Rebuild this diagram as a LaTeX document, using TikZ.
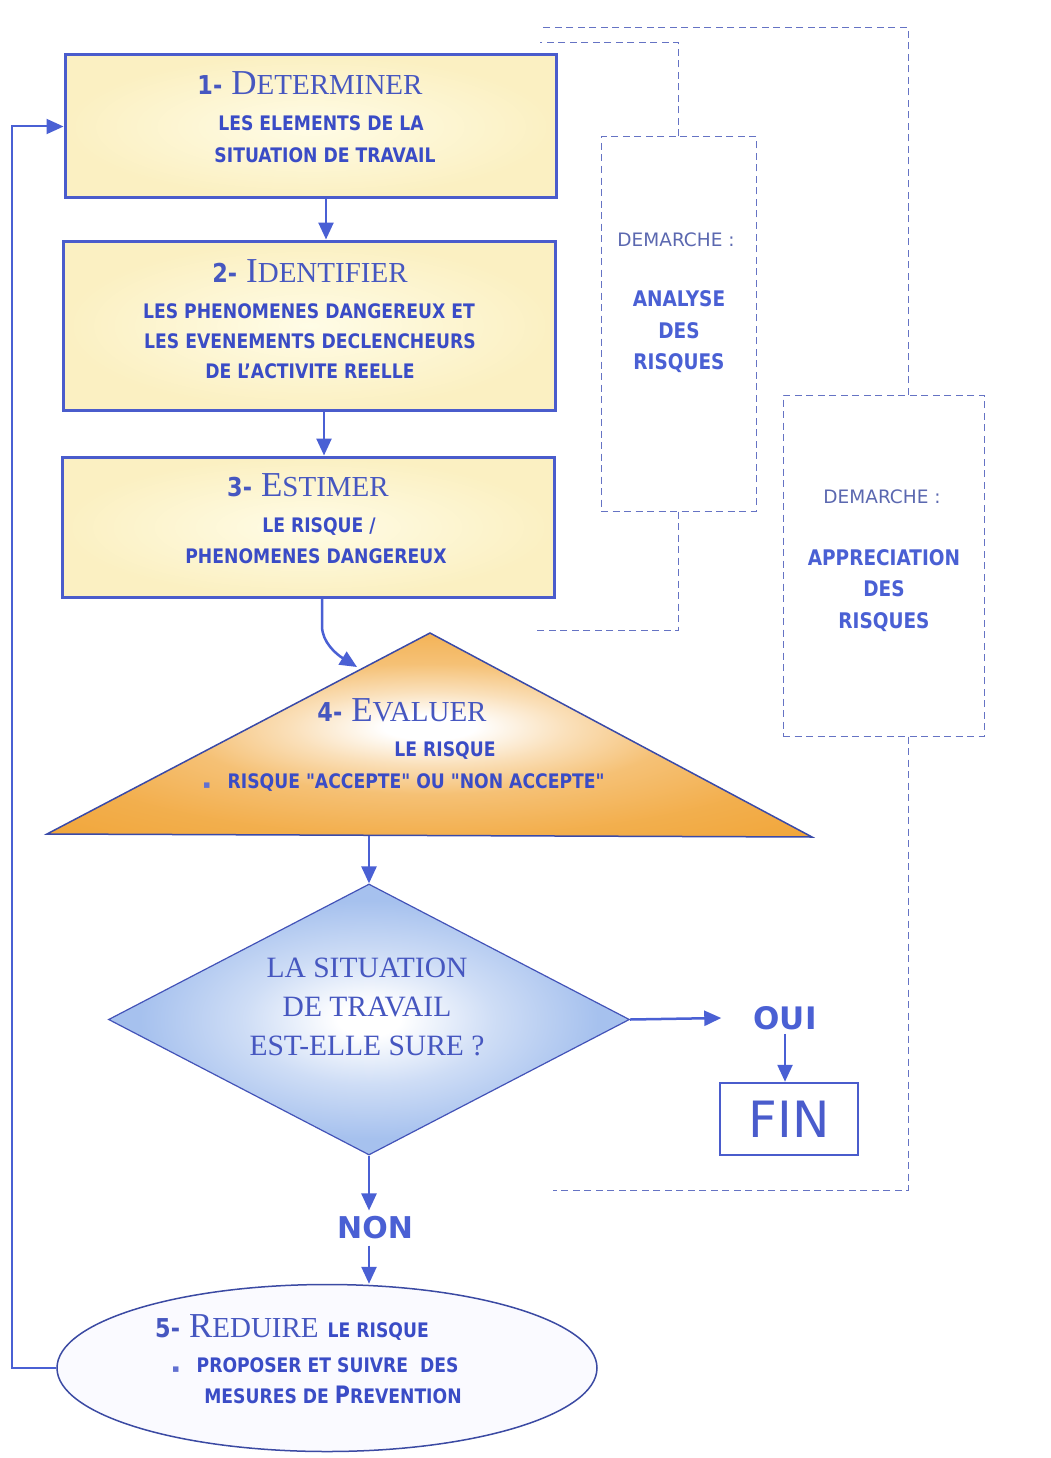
\documentclass[tikz,border=0pt]{standalone}
\usepackage{fontspec}
\setmainfont{Liberation Serif}
\newfontfamily\tah[FakeStretch=0.86]{DejaVu Sans}
\newfontfamily\verd{DejaVu Sans}
\usetikzlibrary{arrows.meta,shapes.geometric}
\definecolor{bord}{HTML}{4A5CCC}
\definecolor{txt}{HTML}{3A4CC6}
\definecolor{sertxt}{HTML}{4657C0}
\definecolor{boxin}{HTML}{FFFCE6}
\definecolor{boxout}{HTML}{FBF0C2}
\definecolor{orng}{HTML}{F1A63A}
\definecolor{lblue}{HTML}{A6C1EE}
\definecolor{dashc}{HTML}{6573C4}
\definecolor{arr}{HTML}{4A60D4}
\definecolor{tribord}{HTML}{3A4AA8}
\pgfdeclareradialshading{glow}{\pgfpoint{0bp}{2bp}}{color(0bp)=(white); color(3bp)=(white); color(9bp)=(orng!35); color(16bp)=(orng!70); color(26bp)=(orng!90); color(36bp)=(orng); color(70bp)=(orng)}
\pgfdeclareradialshading{bglow}{\pgfpoint{0bp}{0bp}}{color(0bp)=(white); color(3bp)=(white); color(12bp)=(lblue!55); color(22bp)=(lblue); color(70bp)=(lblue)}
\newcommand\SCap[2]{{\fontsize{35}{35}\selectfont #1}{\fontsize{29}{29}\selectfont #2}}
\newcommand\Num[1]{{\tah\bfseries\fontsize{26}{26}\selectfont #1}\hspace{9pt}}
\newcommand\Bul{{\verd\fontsize{11}{11}\selectfont\color{txt!80}▪}\hspace{17pt}}
\begin{document}
\begin{tikzpicture}[x=1pt,y=-1pt,
  stepbox/.style={draw=bord, line width=3pt, inner color=boxin, outer color=boxout, inner sep=0pt},
  sub/.style={font=\tah\bfseries\fontsize{20}{20}\selectfont, text=txt, anchor=base, inner sep=0pt},
  ttl/.style={text=sertxt, anchor=base, inner sep=0pt},
  dtxt/.style={font=\verd\fontsize{18.5}{18.5}\selectfont, text=dashc!90!black, anchor=base, inner sep=0pt},
  dsub/.style={font=\tah\bfseries\fontsize{21.5}{21.5}\selectfont, text=arr, anchor=base, inner sep=0pt},
  dia/.style={font=\fontsize{29.5}{29.5}\selectfont, text=sertxt, anchor=base, inner sep=0pt},
  flow/.style={draw=arr, line width=2.5pt, -{Triangle[length=17pt,width=15pt]}},
  dashline/.style={draw=dashc, line width=1pt, dash pattern=on 7pt off 4.5pt},
  dashbox/.style={draw=dashc, line width=1pt, dash pattern=on 7pt off 4.5pt, inner sep=0pt}]
\useasboundingbox[fill=white] (0,0) rectangle (1050,1458);

% dashed grouping boxes
\node[dashbox, minimum width=155pt, minimum height=374pt] (ana) at (678.5,324) {};
\node[dashbox, minimum width=201pt, minimum height=341pt] (app) at (883.5,565.5) {};
\coordinate (anaT) at (540,43);
\coordinate (anaB) at (537,630);
\coordinate (appT) at (540,28);
\coordinate (appB) at (553,1190);
\coordinate (appX) at (908,0);
\draw[dashline] (ana.north) |- (anaT);
\draw[dashline] (ana.south) |- (anaB);
\draw[dashline] (app.north -| appX) |- (appT);
\draw[dashline] (app.south -| appX) |- (appB);
\node[dtxt] (anaD) at (676,246) {DEMARCHE :};
\node[dsub] (anaA) at (679,306) {ANALYSE};
\node[dsub] (anaE) at (679,338) {DES};
\node[dsub] (anaR) at (679,369) {RISQUES};
\node[dtxt] (appD) at (882,503) {DEMARCHE :};
\node[dsub] (appA) at (884,565) {APPRECIATION};
\node[dsub] (appE) at (884,596) {DES};
\node[dsub] (appR) at (884,628) {RISQUES};

% step boxes
\node[stepbox, minimum width=491pt, minimum height=143pt] (b1) at (310.5,126.5) {};
\node[stepbox, minimum width=492pt, minimum height=169pt] (b2) at (309,325.5) {};
\node[stepbox, minimum width=492pt, minimum height=140pt] (b3) at (308,527) {};

\node[ttl] (t1) at (310,95) {\Num{1-}\SCap{D}{ETERMINER}};
\node[sub] (s11) at (321,131) {LES ELEMENTS DE LA};
\node[sub] (s12) at (325,163) {SITUATION DE TRAVAIL};

\node[ttl] (t2) at (310,282) {\Num{2-}\SCap{I}{DENTIFIER}};
\node[sub] (s21) at (309,318) {LES PHENOMENES DANGEREUX ET};
\node[sub] (s22) at (310,348) {LES EVENEMENTS DECLENCHEURS};
\node[sub] (s23) at (310,378) {DE L’ACTIVITE REELLE};

\node[ttl] (t3) at (308,496) {\Num{3-}\SCap{E}{STIMER}};
\node[sub] (s31) at (319,532) {LE RISQUE /};
\node[sub] (s32) at (316,563) {PHENOMENES DANGEREUX};

% triangle
\coordinate (ta) at (430,633);
\coordinate (tl) at (47,834);
\coordinate (tr) at (812,837);
\shade[shading=glow, draw=tribord, line width=1.5pt] (ta) -- (tr) -- (tl) -- cycle;
\node[ttl] (t4) at (402,721) {\Num{4-}\SCap{E}{VALUER}};
\node[sub] (s41) at (445,756) {LE RISQUE};
\node[sub, anchor=base west] (s42) at (203,788) {\Bul RISQUE "ACCEPTE" OU "NON ACCEPTE"};

% diamond
\node[diamond, shading=bglow, draw=bord!90!black, line width=1.2pt, minimum width=521pt, minimum height=271pt, inner sep=0pt] (dm) at (369,1019.5) {};
\node[dia] (d1) at (367,977) {LA SITUATION};
\node[dia] (d2) at (367,1016) {DE TRAVAIL};
\node[dia] (d3) at (367,1055) {EST-ELLE SURE ?};

% OUI / FIN / NON
\node[font=\verd\bfseries\fontsize{31}{31}\selectfont, text=arr, inner xsep=32pt, inner ysep=4pt] (oui) at (785,1018) {OUI};
\node[draw=bord, line width=2.5pt, minimum width=138pt, minimum height=72pt, inner sep=0pt, font=\verd\fontsize{50}{50}\selectfont, text=bord] (fin) at (789,1119) {FIN};
\node[font=\verd\bfseries\fontsize{30}{30}\selectfont, text=arr, inner xsep=2pt, inner ysep=6pt] (non) at (375,1228) {NON};

% ellipse
\node[ellipse, draw=bord!80!black, line width=1.5pt, fill=blue!2, minimum width=540pt, minimum height=167pt, inner sep=0pt] (ell) at (327,1368) {};
\node[ttl, anchor=base west] (t5) at (155,1337) {\Num{5-}\SCap{R}{EDUIRE}\hspace{9pt}{\tah\bfseries\fontsize{20}{20}\selectfont\color{txt}LE RISQUE}};
\node[sub, anchor=base west] (s51) at (172,1372) {\Bul PROPOSER ET SUIVRE~ DES};
\node[sub] (s52) at (333,1403) {MESURES DE {\fontsize{24}{24}\selectfont P}REVENTION};

% connectors
\coordinate (ax1) at (326,0);
\coordinate (ax2) at (324,0);
\coordinate (ax3) at (322,0);
\coordinate (tb) at (369,836);
\coordinate (ttip) at (357,667);
\coordinate (lp) at (12,0);
\coordinate (ox) at (785,0);
\draw[flow] (b1.south -| ax1) -- (b2.north -| ax1);
\draw[flow] (b2.south -| ax2) -- (b3.north -| ax2);
\draw[flow] (b3.south -| ax3) -- (322,626) .. controls (322,642) and (336,654) .. (ttip);
\draw[flow] (tb) -- (dm.north);
\draw[flow] (dm.east) -- (oui.west);
\draw[flow] (oui.south -| ox) -- (fin.north -| ox);
\draw[flow] (dm.south) -- (dm.south |- non.north);
\draw[flow] (dm.south |- non.south) -- (dm.south |- ell.north);
\draw[flow, line width=2pt] (ell.west) -- (ell.west -| lp) -- (b1.west -| lp) -- (b1.west);
\end{tikzpicture}
\end{document}
